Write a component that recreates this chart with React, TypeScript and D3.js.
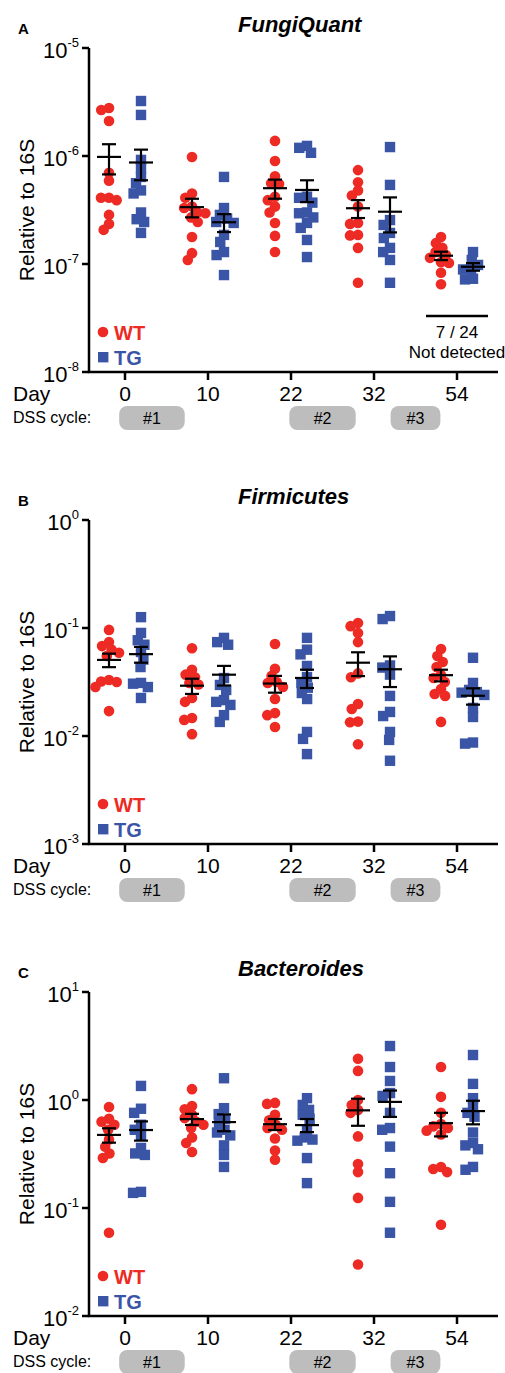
import React from 'react';
import * as d3 from 'd3';

// x categories (days) and DSS cycles (in category-step units)
const days = ['0', '10', '22', '32', '54'];
const dssCycles = [
  { label: '#1', start: -0.07, end: 0.72 },
  { label: '#2', start: 1.98, end: 2.78 },
  { label: '#3', start: 3.2, end: 3.8 },
];

// A: FungiQuant, per day
const fungiWT = [
  [2.78e-6, 2.67e-6, 2.11e-6, 7.0e-7, 5.9e-7, 4.1e-7, 4.1e-7, 3.9e-7, 2.85e-7, 2.35e-7, 2.07e-7],
  [9.8e-7, 4.5e-7, 4.1e-7, 3.4e-7, 3.3e-7, 3.0e-7, 2.95e-7, 2.7e-7, 2.45e-7, 1.78e-7, 1.26e-7, 1.09e-7],
  [1.38e-6, 9.0e-7, 6.5e-7, 5.6e-7, 5.5e-7, 4.2e-7, 3.9e-7, 3.4e-7, 3.0e-7, 2.4e-7, 1.82e-7, 1.29e-7],
  [7.4e-7, 5.7e-7, 4.8e-7, 4.3e-7, 3.4e-7, 2.4e-7, 2.35e-7, 1.86e-7, 1.84e-7, 1.41e-7, 6.7e-8],
  [1.78e-7, 1.56e-7, 1.41e-7, 1.29e-7, 1.21e-7, 1.14e-7, 1.04e-7, 1.02e-7, 8.3e-8, 6.5e-8],
];
const fungiTG = [
  [3.23e-6, 2.4e-6, 9.2e-7, 7.7e-7, 6.4e-7, 5.6e-7, 4.8e-7, 4.5e-7, 3.0e-7, 2.6e-7, 2.45e-7, 1.94e-7],
  [6.4e-7, 3.3e-7, 2.85e-7, 2.64e-7, 2.45e-7, 2.4e-7, 1.86e-7, 1.6e-7, 1.29e-7, 1.21e-7, 7.9e-8],
  [1.24e-6, 1.19e-6, 1.07e-6, 4.2e-7, 4.1e-7, 3.7e-7, 3.0e-7, 2.95e-7, 2.7e-7, 2.4e-7, 2.16e-7, 1.67e-7, 1.16e-7],
  [1.21e-6, 5.4e-7, 2.55e-7, 2.3e-7, 1.94e-7, 1.74e-7, 1.41e-7, 1.29e-7, 1.09e-7, 6.7e-8],
  [1.29e-7, 1.09e-7, 9.8e-8, 9.0e-8, 8.9e-8, 7.3e-8, 7.2e-8],
];

// B: Firmicutes
const firmWT = [
  [0.096, 0.074, 0.068, 0.063, 0.059, 0.055, 0.033, 0.032, 0.0316, 0.0284, 0.017],
  [0.065, 0.041, 0.037, 0.035, 0.031, 0.03, 0.0225, 0.0207, 0.0147, 0.0141, 0.0104],
  [0.071, 0.042, 0.036, 0.0316, 0.031, 0.0284, 0.022, 0.0163, 0.0156, 0.0121],
  [0.111, 0.104, 0.09, 0.074, 0.038, 0.035, 0.0198, 0.0178, 0.0136, 0.0134, 0.0084],
  [0.064, 0.055, 0.0485, 0.0435, 0.0367, 0.0344, 0.0316, 0.0272, 0.0245, 0.0235, 0.0135],
];
const firmTG = [
  [0.126, 0.09, 0.077, 0.07, 0.06, 0.051, 0.0435, 0.031, 0.0305, 0.0284, 0.0225],
  [0.081, 0.074, 0.07, 0.0344, 0.0297, 0.0267, 0.0215, 0.0207, 0.0194, 0.0156, 0.0135],
  [0.081, 0.063, 0.057, 0.0445, 0.035, 0.031, 0.028, 0.025, 0.022, 0.0109, 0.0094, 0.0068],
  [0.129, 0.121, 0.045, 0.043, 0.037, 0.0235, 0.0167, 0.0153, 0.0109, 0.0092, 0.0059],
  [0.053, 0.031, 0.0267, 0.0255, 0.0252, 0.024, 0.0182, 0.015, 0.0087, 0.0085],
];

// C: Bacteroides
const bactWT = [
  [0.86, 0.67, 0.63, 0.59, 0.53, 0.43, 0.37, 0.32, 0.29, 0.059],
  [1.26, 0.88, 0.82, 0.73, 0.68, 0.63, 0.59, 0.55, 0.45, 0.4, 0.33],
  [0.94, 0.92, 0.73, 0.65, 0.59, 0.55, 0.53, 0.44, 0.34, 0.28],
  [2.41, 1.86, 1.0, 0.9, 0.81, 0.76, 0.46, 0.255, 0.215, 0.124, 0.03],
  [2.02, 1.07, 0.76, 0.6, 0.57, 0.55, 0.52, 0.48, 0.24, 0.23, 0.215, 0.07],
];
const bactTG = [
  [1.35, 0.83, 0.76, 0.59, 0.53, 0.47, 0.36, 0.32, 0.31, 0.141, 0.138],
  [1.59, 0.84, 0.74, 0.67, 0.6, 0.53, 0.5, 0.47, 0.38, 0.31, 0.24],
  [1.04, 0.9, 0.81, 0.73, 0.67, 0.53, 0.45, 0.43, 0.42, 0.29, 0.17],
  [3.16, 2.02, 1.5, 1.16, 1.09, 0.76, 0.55, 0.53, 0.37, 0.21, 0.114, 0.059],
  [2.61, 1.41, 1.04, 0.86, 0.76, 0.7, 0.5, 0.4, 0.38, 0.35, 0.24, 0.226],
];

const panels = [
  { letter: 'A', title: 'FungiQuant', wt: fungiWT, tg: fungiTG, exps: [-8, -5], note: ['7 / 24', 'Not detected'] },
  { letter: 'B', title: 'Firmicutes', wt: firmWT, tg: firmTG, exps: [-3, 0], note: null },
  { letter: 'C', title: 'Bacteroides', wt: bactWT, tg: bactTG, exps: [-2, 1], note: null },
];

const RED = '#ed2a24';
const BLUE = '#3a55a5';
const FONT = 'Liberation Sans, Arial, Helvetica, sans-serif';

const W = 505, H = 1373;
const AX = 89;          // y axis x
const AX_END = 498;
const PANEL_STEP = 472;
const TOP0 = 48;
const PLOT_H = 324;

// simple beeswarm: returns x offsets for pixel y positions
function swarm(ys: number[], D: number): number[] {
  const order = ys.map((_, i) => i).sort((a, b) => ys[a] - ys[b]);
  const placed: { x: number; y: number }[] = [];
  const xs = new Array(ys.length).fill(0);
  for (const i of order) {
    const y = ys[i];
    const cands = [0];
    for (const p of placed) {
      const dy = Math.abs(p.y - y);
      if (dy < D) {
        const dx = Math.sqrt(D * D - dy * dy);
        cands.push(p.x - dx, p.x + dx);
      }
    }
    cands.sort((a, b) => Math.abs(a) - Math.abs(b) || a - b);
    const x = cands.find(c => placed.every(p => (p.x - c) ** 2 + (p.y - y) ** 2 >= D * D - 0.01)) ?? 0;
    placed.push({ x, y });
    xs[i] = x;
  }
  return xs;
}

const x = d3.scalePoint<string>().domain(days).range([125, 457]);
const step = x.step();
const groupOff = d3.scalePoint<string>().domain(['WT', 'TG']).range([-16, 16]);

function Panel({ p, i }: { p: typeof panels[number]; i: number }) {
  const top = TOP0 + i * PANEL_STEP;
  const bottom = top + PLOT_H;
  const y = d3.scaleLog().domain([10 ** p.exps[0], 10 ** p.exps[1]]).range([bottom, top]);
  const decades = d3.range(p.exps[0], p.exps[1] + 1);

  const groups = days.flatMap((d, di) => [
    { g: 'WT', vals: p.wt[di], day: d },
    { g: 'TG', vals: p.tg[di], day: d },
  ]);

  return (
    <g fontFamily={FONT}>
      <text x={18} y={top - 14} fontSize={15} fontWeight="bold">{p.letter}</text>
      <text x={238} y={top - 16} fontSize={22} fontWeight="bold" fontStyle="italic">{p.title}</text>

      {/* y axis */}
      <text transform={`translate(26,${(top + bottom) / 2}) rotate(-90)`} textAnchor="middle"
        dominantBaseline="central" fontSize={21}>Relative to 16S</text>
      <line x1={AX} x2={AX} y1={top} y2={bottom} stroke="#000" strokeWidth={2.5} />
      {decades.map(e => (
        <g key={e}>
          <line x1={AX - 7} x2={AX} y1={y(10 ** e)} y2={y(10 ** e)} stroke="#000" strokeWidth={2.5} />
          <text x={AX - 10} y={y(10 ** e) + 10} textAnchor="end" fontSize={22}>
            10<tspan dy={-11} fontSize={13}>{String(e).replace('-', '-')}</tspan>
          </text>
        </g>
      ))}

      {/* x axis */}
      <line x1={AX - 1.25} x2={AX_END} y1={bottom} y2={bottom} stroke="#000" strokeWidth={2.5} />
      {days.map(d => (
        <g key={d}>
          <line x1={x(d)} x2={x(d)} y1={bottom} y2={bottom + 8} stroke="#000" strokeWidth={2.5} />
          <text x={x(d)} y={bottom + 29} textAnchor="middle" fontSize={21}>{d}</text>
        </g>
      ))}
      <text x={13} y={bottom + 29} fontSize={21}>Day</text>
      <text x={13} y={bottom + 51} fontSize={16}>DSS cycle:</text>
      {dssCycles.map(c => {
        const x0 = x(days[0])! + c.start * step;
        const x1 = x(days[0])! + c.end * step;
        return (
          <g key={c.label}>
            <rect x={x0} y={bottom + 34} width={x1 - x0} height={24} rx={8} fill="#bdbdbd" />
            <text x={(x0 + x1) / 2} y={bottom + 52} textAnchor="middle" fontSize={16}>{c.label}</text>
          </g>
        );
      })}

      {/* points */}
      {groups.map(gr => {
        const cx = x(gr.day)! + groupOff(gr.g)!;
        const ys = gr.vals.map(v => y(v));
        const offs = swarm(ys, 8);
        const color = gr.g === 'WT' ? RED : BLUE;
        return (
          <g key={gr.g + gr.day}>
            {ys.map((yy, k) => gr.g === 'WT'
              ? <circle key={k} cx={cx + offs[k]} cy={yy} r={5.3} fill={color} />
              : <rect key={k} x={cx + offs[k] - 5.2} y={yy - 5.2} width={10.4} height={10.4} fill={color} />)}
          </g>
        );
      })}

      {/* mean +/- SEM */}
      {groups.map(gr => {
        const cx = x(gr.day)! + groupOff(gr.g)!;
        const m = d3.mean(gr.vals)!;
        const sem = d3.deviation(gr.vals)! / Math.sqrt(gr.vals.length);
        const yh = y(m + sem), yl = y(m - sem), ym = y(m);
        return (
          <g key={'e' + gr.g + gr.day} stroke="#000" strokeWidth={2.2}>
            <line x1={cx} x2={cx} y1={yh} y2={yl} />
            <line x1={cx - 12} x2={cx + 12} y1={ym} y2={ym} />
            <line x1={cx - 7} x2={cx + 7} y1={yh} y2={yh} />
            <line x1={cx - 7} x2={cx + 7} y1={yl} y2={yl} />
          </g>
        );
      })}

      {/* legend */}
      <circle cx={103} cy={bottom - 40} r={5.3} fill={RED} />
      <text x={114} y={bottom - 32} fontSize={20} fontWeight="bold" fill={RED}>WT</text>
      <rect x={98} y={bottom - 20} width={10.4} height={10.4} fill={BLUE} />
      <text x={114} y={bottom - 7} fontSize={20} fontWeight="bold" fill={BLUE}>TG</text>

      {p.note && (
        <g>
          <line x1={x('54')! - 31} x2={x('54')! + 31} y1={bottom - 56} y2={bottom - 56} stroke="#000" strokeWidth={2.5} />
          <text x={x('54')!} y={bottom - 34} textAnchor="middle" fontSize={17}>{p.note[0]}</text>
          <text x={x('54')!} y={bottom - 14} textAnchor="middle" fontSize={17}>{p.note[1]}</text>
        </g>
      )}
    </g>
  );
}

export default function App() {
  return (
    <svg width={W} height={H} style={{ position: 'absolute', left: 0, top: 0, background: '#fff' }}>
      {panels.map((p, i) => <Panel key={p.letter} p={p} i={i} />)}
    </svg>
  );
}
